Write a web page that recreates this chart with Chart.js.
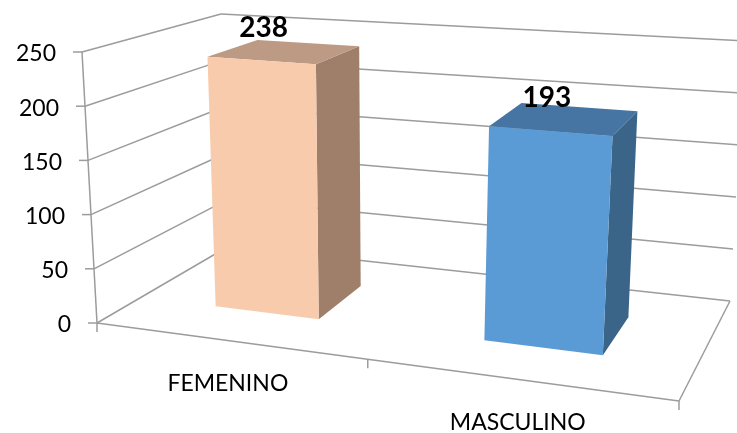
<!DOCTYPE html>
<html>
<head>
<meta charset="utf-8">
<style>html,body{margin:0;padding:0;background:#fff}canvas{display:block}</style>
<script src="https://cdn.jsdelivr.net/npm/chart.js@4"></script>
</head>
<body>
<canvas id="c" width="737" height="433"></canvas>
<script>
const categories = ['FEMENINO', 'MASCULINO'];
const values = [238, 193];
const frontColors = ['#F8CBAD', '#5B9BD5'];
const topColors = ['#BC9A83', '#4675A3'];
const sideColors = ['#A07F6A', '#3A6488'];
const axisMin = 0;
const axisMax = 250;
const axisStep = 50;

// Screen corners of the 3D box: f/b = front/back, l/r = left/right, 0/1 = floor/top
const box = {
  fl0: [97, 323], fr0: [679, 401], bl0: [229, 246], br0: [730, 301],
  fl1: [82, 52], fr1: [698, 97], bl1: [221, 14], br1: [745, 41]
};
const perspectiveK = 0.87, barFront = 0.34, barBack = 0.735;
const lineColor = '#9C9C9C';
const labelShift = [2, -4];

function mix(a, b, t) { return [a[0] + (b[0] - a[0]) * t, a[1] + (b[1] - a[1]) * t]; }
function project3(u, v, w) {
  const p = perspectiveK * u / (1 + (perspectiveK - 1) * u);
  const f0 = mix(box.fl0, box.fr0, p), f1 = mix(box.fl1, box.fr1, p);
  const b0 = mix(box.bl0, box.br0, p), b1 = mix(box.bl1, box.br1, p);
  return mix(mix(f0, f1, v), mix(b0, b1, v), w);
}
function project(chart, px, py, w) {
  const a = chart.chartArea;
  return project3((px - a.left) / (a.right - a.left), (a.bottom - py) / (a.bottom - a.top), w);
}
function poly(ctx, pts, fill) {
  ctx.beginPath();
  pts.forEach((p, i) => i ? ctx.lineTo(p[0], p[1]) : ctx.moveTo(p[0], p[1]));
  ctx.closePath();
  ctx.fillStyle = fill;
  ctx.fill();
}
function seg(ctx, a, b) {
  ctx.beginPath(); ctx.moveTo(a[0], a[1]); ctx.lineTo(b[0], b[1]); ctx.stroke();
}

const bar3d = {
  id: 'bar3d',
  beforeDraw(chart) {
    const y = chart.scales.y, x = chart.scales.x;
    y.getLabelItems().forEach((item, i) => {
      const p = project(chart, chart.chartArea.left, y.getPixelForTick(i), 0);
      item.options.translation = [p[0] - 26, p[1] + 2];
    });
    x.getLabelItems().forEach((item, i) => {
      const p = project(chart, x.getPixelForTick(i), chart.chartArea.bottom, 0);
      item.options.translation = [p[0], p[1] + 43];
      item.options.textBaseline = 'middle';
      item.textOffset = 0;
    });
  },
  beforeDatasetsDraw(chart) {
    const ctx = chart.ctx, y = chart.scales.y, a = chart.chartArea;
    ctx.save();
    ctx.strokeStyle = lineColor;
    ctx.lineWidth = 1.5;
    y.ticks.forEach((t, i) => {
      const py = y.getPixelForTick(i);
      const f = project(chart, a.left, py, 0);
      const bl = project(chart, a.left, py, 1);
      const br = project(chart, a.right, py, 1);
      seg(ctx, [f[0] - 9, f[1]], f);
      seg(ctx, f, bl);
      seg(ctx, bl, br);
    });
    seg(ctx, box.fl0, box.fl1);
    seg(ctx, box.fl0, box.fr0);
    seg(ctx, box.fr0, box.br0);
    [0, 0.5, 1].forEach(u => {
      const p = project3(u, 0, 0);
      seg(ctx, p, [p[0], p[1] + 9]);
    });
    ctx.restore();
  },
  beforeDatasetDraw() { return false; },
  afterDatasetsDraw(chart) {
    const ctx = chart.ctx;
    chart.getDatasetMeta(0).data.forEach((el, i) => {
      const l = el.x - el.width / 2, r = el.x + el.width / 2;
      const P = (x, y, w) => project(chart, x, y, w);
      poly(ctx, [P(r, el.y, barFront), P(r, el.y, barBack), P(r, el.base, barBack), P(r, el.base, barFront)], sideColors[i]);
      poly(ctx, [P(l, el.y, barFront), P(l, el.y, barBack), P(r, el.y, barBack), P(r, el.y, barFront)], topColors[i]);
      poly(ctx, [P(l, el.y, barFront), P(r, el.y, barFront), P(r, el.base, barFront), P(l, el.base, barFront)], el.options.backgroundColor);
      const c = mix(P(l, el.y, barFront), P(r, el.y, barFront), 0.5);
      ctx.save();
      ctx.fillStyle = '#000';
      ctx.font = 'bold 28px Lato';
      ctx.textAlign = 'center';
      ctx.textBaseline = 'middle';
      ctx.fillText(String(values[i]), c[0] + labelShift[i], c[1] - 33);
      ctx.restore();
    });
  }
};

new Chart(document.getElementById('c'), {
  type: 'bar',
  data: {
    labels: categories,
    datasets: [{
      data: values,
      backgroundColor: frontColors,
      borderWidth: 0,
      categoryPercentage: 0.4,
      barPercentage: 1
    }]
  },
  options: {
    responsive: false,
    animation: false,
    layout: { autoPadding: false, padding: { top: 52, right: 74, left: 0, bottom: 0 } },
    plugins: { legend: { display: false }, tooltip: { enabled: false }, title: { display: false } },
    scales: {
      x: {
        grid: { display: false },
        border: { display: false },
        afterFit(s) { s.height = 110; },
        ticks: { color: '#000', maxRotation: 0, minRotation: 0, autoSkip: false, font: { family: 'Lato', size: 23 } }
      },
      y: {
        min: axisMin,
        max: axisMax,
        grid: { display: false },
        border: { display: false },
        afterFit(s) { s.width = 83; },
        ticks: { stepSize: axisStep, color: '#000', font: { family: 'Lato', size: 23 } }
      }
    }
  },
  plugins: [bar3d]
});
</script>
</body>
</html>
